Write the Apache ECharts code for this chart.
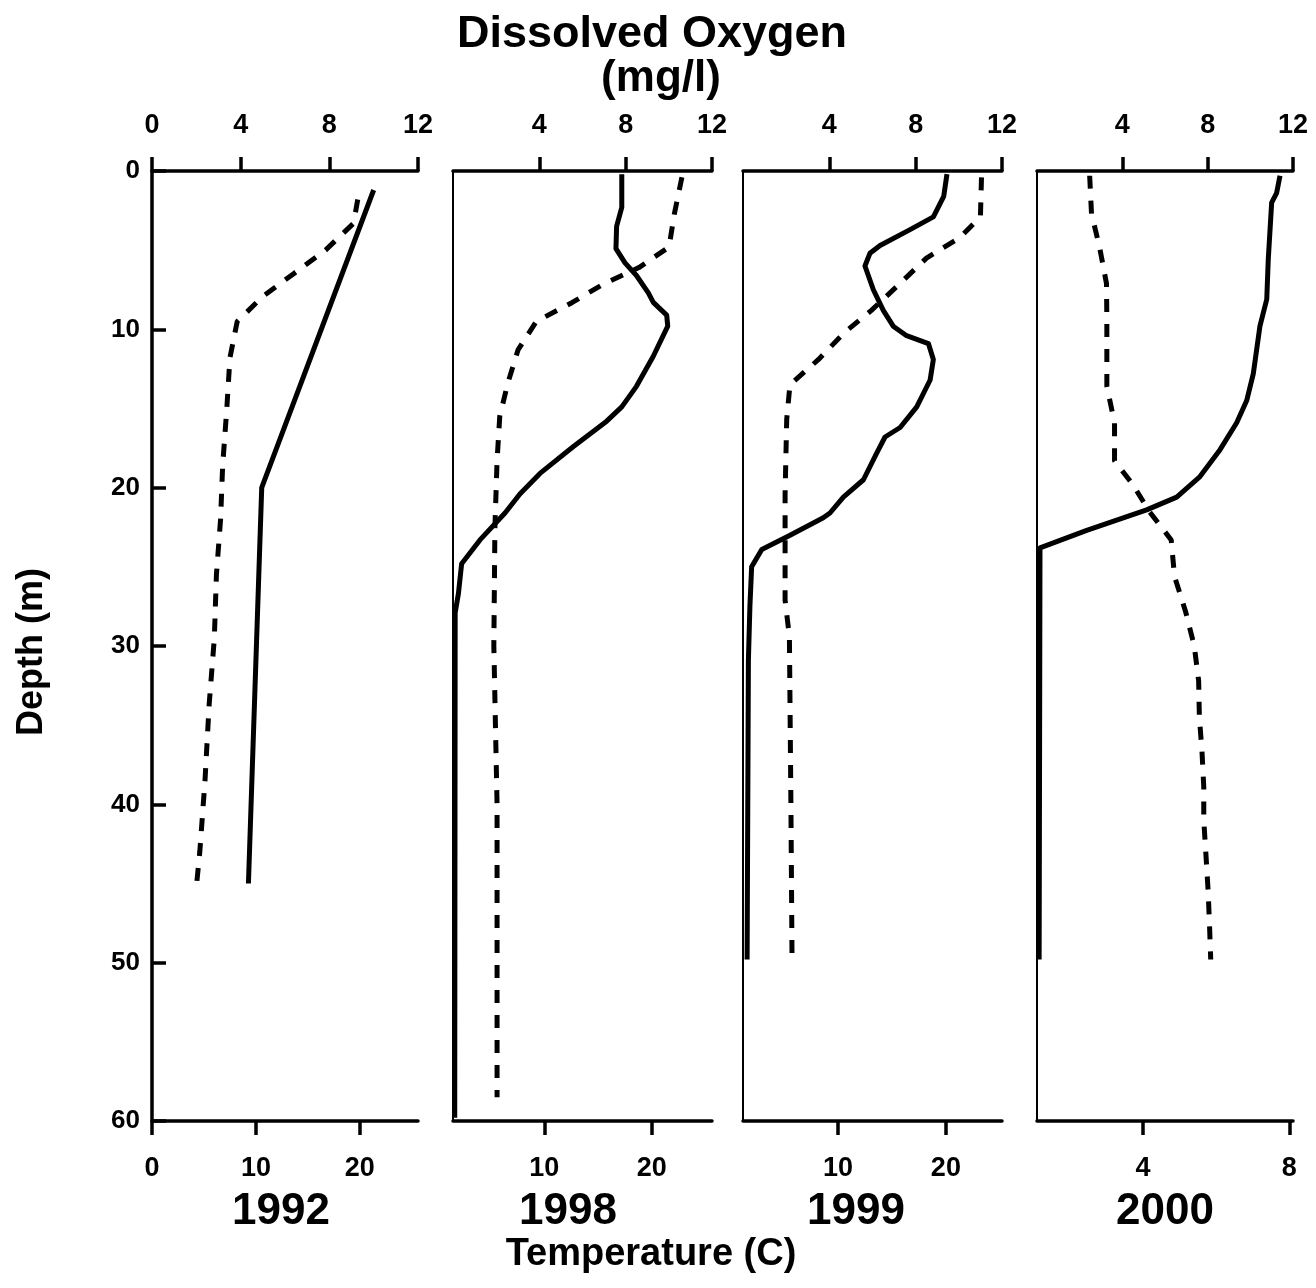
<!DOCTYPE html>
<html>
<head>
<meta charset="utf-8">
<script src="https://cdn.jsdelivr.net/npm/echarts@6/dist/echarts.min.js"></script>
<style>
html, body { margin: 0; padding: 0; background: #fff; }
#main { width: 1316px; height: 1288px; }
</style>
</head>
<body>
<div id="main"></div>
<script>
const years = ['1992', '1998', '1999', '2000']

// dissolved oxygen (mg/l) against depth (m) - solid lines
const do1992Depth = [1.2, 20, 45]
const do1992 = [10.0, 4.95, 4.35]
const do1998Depth = [0.2, 2.3, 3.5, 4.9, 5.8, 6.6, 7.7, 8.3, 9.1, 9.8, 11.7, 13.6, 14.9, 15.8, 17.4, 19.1, 20.4, 21.6, 23.3, 24.8, 26.7, 27.9, 59.8]
const do1998 = [7.82, 7.82, 7.58, 7.55, 7.97, 8.5, 9.05, 9.28, 9.9, 9.95, 9.28, 8.5, 7.82, 7.12, 5.58, 4.03, 3.1, 2.41, 1.25, 0.4, 0.25, 0.1, 0.08]
const do1999Depth = [0.2, 1.6, 2.9, 3.7, 4.7, 5.2, 6.0, 7.5, 8.8, 9.8, 10.4, 10.9, 11.9, 13.2, 14.9, 16.2, 16.8, 17.8, 19.5, 20.6, 21.6, 21.9, 23.0, 23.9, 25.0, 27.5, 30.9, 49.8]
const do1999 = [9.45, 9.3, 8.82, 7.74, 6.35, 5.88, 5.65, 6.04, 6.5, 6.96, 7.58, 8.59, 8.82, 8.67, 8.05, 7.28, 6.58, 6.2, 5.58, 4.65, 4.03, 3.72, 2.18, 0.87, 0.4, 0.32, 0.25, 0.19]
const do2000Depth = [0.3, 1.4, 2.0, 5.6, 8.1, 9.8, 12.8, 14.5, 15.9, 17.6, 19.3, 20.6, 21.4, 22.7, 23.8, 49.8]
const do2000 = [11.39, 11.23, 11.0, 10.84, 10.77, 10.45, 10.14, 9.83, 9.36, 8.58, 7.64, 6.55, 5.14, 2.33, 0.14, 0.1]

// temperature (C) against depth (m) - dashed lines
const temp1992Depth = [1.8, 3.3, 5.0, 6.5, 7.9, 9.5, 11.8, 15, 18.6, 22, 25.5, 29.5, 33.7, 38.5, 43, 45]
const temp1992 = [19.8, 19.4, 16.7, 13.6, 10.7, 8.2, 7.5, 7.2, 6.8, 6.6, 6.2, 6.0, 5.5, 5.1, 4.6, 4.3]
const temp1998Depth = [0.4, 2.7, 4.8, 6.1, 7.1, 8.3, 9.5, 11.3, 13.4, 15.5, 18.3, 22.5, 30, 40, 50, 58.5]
const temp1998 = [22.8, 22.1, 21.6, 18.8, 15.6, 12.6, 9.25, 7.55, 6.6, 5.85, 5.6, 5.4, 5.3, 5.6, 5.6, 5.6]
const temp1999Depth = [0.4, 2.9, 4.2, 5.5, 7.2, 8.8, 10.2, 11.9, 13.5, 15.7, 20.4, 27.1, 29.4, 40, 49.5]
const temp1999 = [23.3, 23.2, 21.3, 18.2, 15.6, 13.1, 10.6, 8.2, 5.55, 5.25, 5.1, 5.1, 5.5, 5.64, 5.74]
const temp2000Depth = [0.3, 2.7, 4.8, 7.1, 9.4, 13.6, 15.9, 18.3, 19.8, 21.5, 23.3, 25.6, 27.8, 30, 32.2, 34.5, 36.6, 38.9, 41, 43.2, 45.5, 47.8, 49.8]
const temp2000 = [2.54, 2.59, 2.81, 3.0, 3.01, 3.01, 3.22, 3.22, 3.72, 4.17, 4.77, 4.86, 5.16, 5.4, 5.52, 5.54, 5.61, 5.66, 5.66, 5.72, 5.78, 5.82, 5.85]

// tick labels
const depthTicks = [0, 10, 20, 30, 40, 50, 60]
const doTicks = [[0, 4, 8, 12], [4, 8, 12], [4, 8, 12], [4, 8, 12]]
const tempTicks = [[0, 10, 20], [10, 20], [10, 20], [4, 8]]

const doSeries = [[do1992Depth, do1992], [do1998Depth, do1998], [do1999Depth, do1999], [do2000Depth, do2000]]
const tempSeries = [[temp1992Depth, temp1992], [temp1998Depth, temp1998], [temp1999Depth, temp1999], [temp2000Depth, temp2000]]

const panels = [
  { left: 152, width: 266, tMin: 0, tMax: 25.6 },
  { left: 453, width: 259, tMin: 1.5, tMax: 25.6 },
  { left: 743, width: 259, tMin: 1.2, tMax: 25.2 },
  { left: 1037, width: 256, tMin: 1.1, tMax: 8.1 }
]

const font = 'Liberation Sans, Arial, sans-serif'
const zip = (d, v) => d.map((y, i) => [v[i], y])

const grid = [], xAxis = [], yAxis = [], series = []
panels.forEach((p, i) => {
  grid.push({ left: p.left, width: p.width, top: 171, height: 950, containLabel: false })
  xAxis.push({
    type: 'value', gridIndex: i, position: 'top', min: 0, max: 12,
    splitLine: { show: false },
    axisLine: { show: true, lineStyle: { color: '#000', width: 3.5 } },
    axisTick: { show: true, inside: false, length: 14, customValues: doTicks[i], lineStyle: { color: '#000', width: 3.5 } },
    axisLabel: { show: true, margin: 32, customValues: doTicks[i], color: '#000', fontFamily: font, fontWeight: 'bold', fontSize: 27 }
  })
  xAxis.push({
    type: 'value', gridIndex: i, position: 'bottom', min: p.tMin, max: p.tMax,
    splitLine: { show: false },
    axisLine: { show: true, onZero: false, lineStyle: { color: '#000', width: 3.5 } },
    axisTick: { show: true, inside: false, length: 14, customValues: tempTicks[i], lineStyle: { color: '#000', width: 3.5 } },
    axisLabel: { show: true, margin: 34, customValues: tempTicks[i], color: '#000', fontFamily: font, fontWeight: 'bold', fontSize: 27 }
  })
  yAxis.push({
    type: 'value', gridIndex: i, inverse: true, min: 0, max: 60,
    splitLine: { show: false },
    axisLine: { show: true, onZero: false, lineStyle: { color: '#000', width: i === 0 ? 3.5 : 2 } },
    axisTick: { show: i === 0, inside: true, length: 14, customValues: depthTicks, lineStyle: { color: '#000', width: 3.5 } },
    axisLabel: { show: i === 0, margin: 12, customValues: depthTicks, color: '#000', fontFamily: font, fontWeight: 'bold', fontSize: 26 }
  })
  series.push({
    name: 'Temperature ' + years[i], type: 'line', xAxisIndex: 2 * i + 1, yAxisIndex: i,
    symbol: 'none', silent: true, clip: false,
    lineStyle: { color: '#000', width: 5, type: [13, 12], cap: 'butt' },
    data: zip(tempSeries[i][0], tempSeries[i][1])
  })
  series.push({
    name: 'Dissolved oxygen ' + years[i], type: 'line', xAxisIndex: 2 * i, yAxisIndex: i,
    symbol: 'none', silent: true, clip: false,
    lineStyle: { color: '#000', width: 5, join: 'round' },
    data: zip(doSeries[i][0], doSeries[i][1])
  })
})

const yearX = [281, 568, 856, 1165]
const texts = [
  { text: 'Dissolved Oxygen', x: 652, y: 35, size: 45 },
  { text: '(mg/l)', x: 661, y: 79, size: 44 },
  { text: 'Temperature (C)', x: 651, y: 1255, size: 38 }
].concat(years.map((y, i) => ({ text: y, x: yearX[i], y: 1212, size: 44 })))

const graphic = texts.map(t => ({
  type: 'text', x: t.x, y: t.y, silent: true,
  style: { text: t.text, fill: '#000', font: 'bold ' + t.size + 'px ' + font, textAlign: 'center', textVerticalAlign: 'middle' }
}))
graphic.push({
  type: 'text', x: 32, y: 652, rotation: Math.PI / 2, silent: true,
  style: { text: 'Depth (m)', fill: '#000', font: 'bold 36px ' + font, textAlign: 'center', textVerticalAlign: 'middle' }
})

const myChart = echarts.init(document.getElementById('main'), null, { renderer: 'canvas' })
myChart.setOption({
  animation: false,
  backgroundColor: '#fff',
  grid: grid,
  xAxis: xAxis,
  yAxis: yAxis,
  series: series,
  graphic: graphic
})
</script>
</body>
</html>
